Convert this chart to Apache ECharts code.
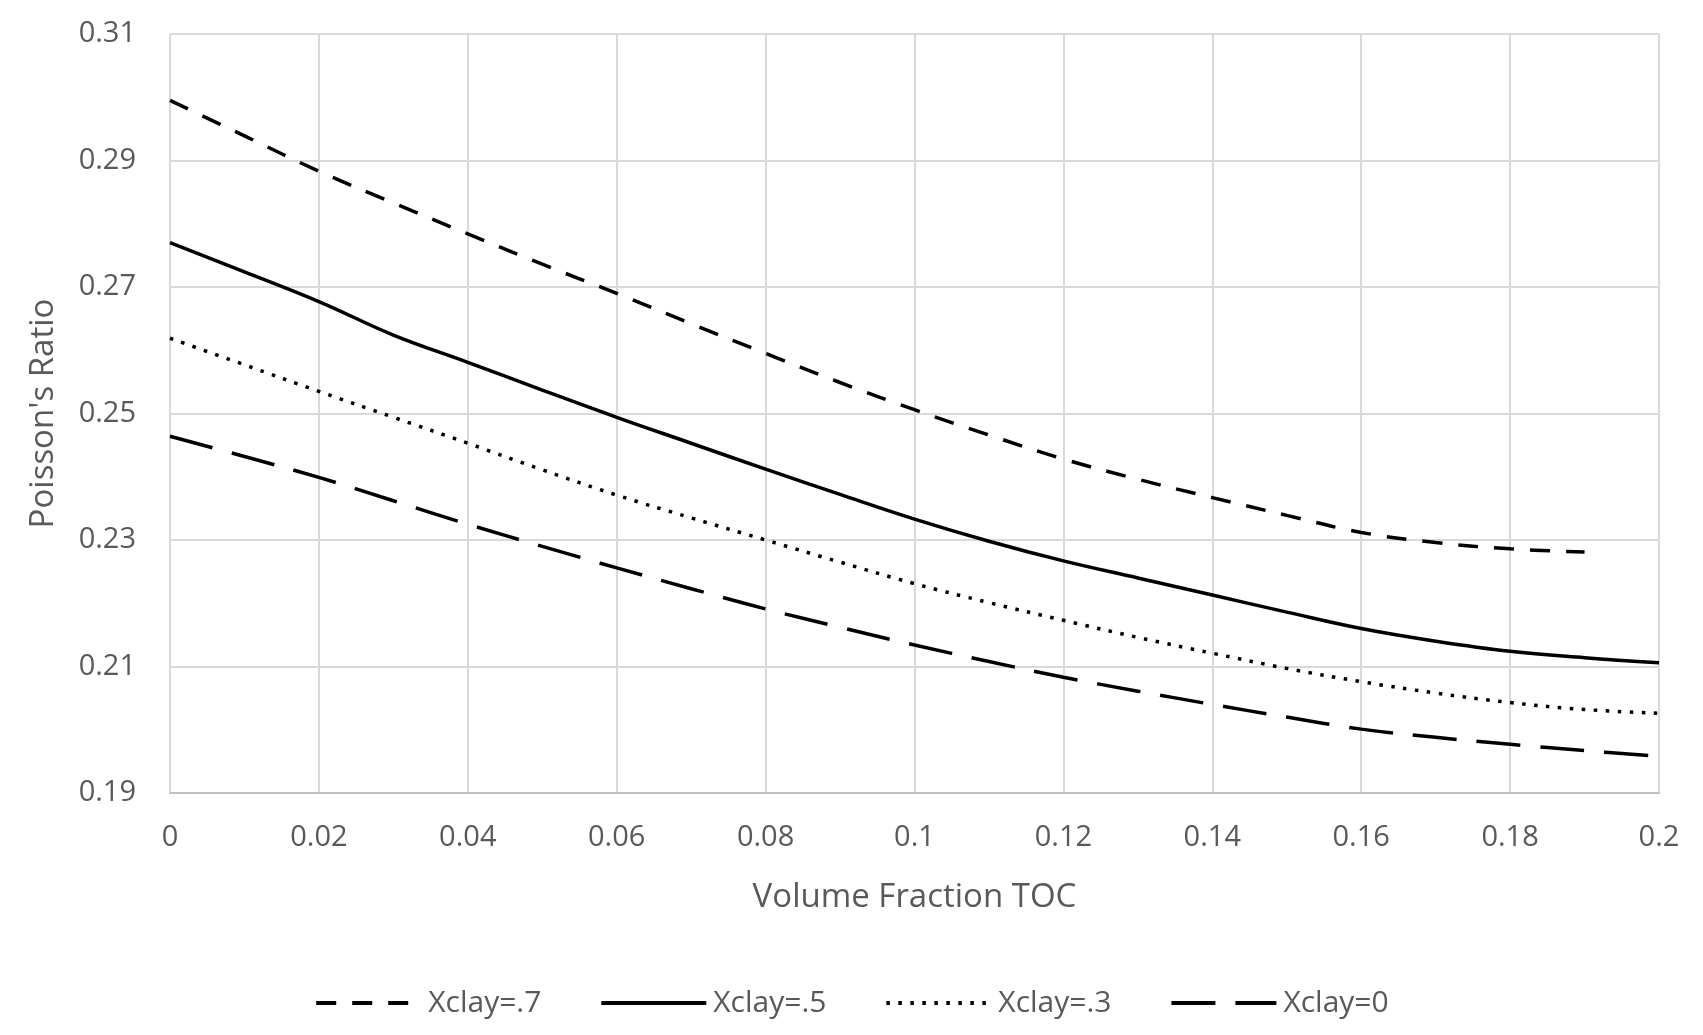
<!DOCTYPE html>
<html>
<head>
<meta charset="utf-8">
<script src="https://cdn.jsdelivr.net/npm/echarts@6/dist/echarts.min.js"></script>
<style>
html,body{margin:0;padding:0;background:#fff;}
#chart{width:1703px;height:1035px;}
</style>
</head>
<body>
<div id="chart"></div>
<script>
const xValues = [0,0.01,0.02,0.03,0.04,0.05,0.06,0.07,0.08,0.09,0.10,0.11,0.12,0.13,0.14,0.15,0.16,0.17,0.18,0.19,0.20];
const seriesNames = ['Xclay=.7','Xclay=.5','Xclay=.3','Xclay=0'];
const clay07 = [0.2995,0.2939,0.2883,0.2833,0.2784,0.2736,0.2690,0.2642,0.2595,0.2549,0.2506,0.2466,0.2428,0.2396,0.2367,0.2339,0.2312,0.2296,0.2286,0.2281];
const clay05 = [0.2770,0.2724,0.2677,0.2624,0.2581,0.2537,0.2494,0.2453,0.2412,0.2372,0.2333,0.2298,0.2267,0.2240,0.2213,0.2186,0.2160,0.2140,0.2124,0.2114,0.2106];
const clay03 = [0.2619,0.2577,0.2535,0.2494,0.2453,0.2411,0.2371,0.2335,0.2300,0.2265,0.2231,0.2201,0.2173,0.2146,0.2121,0.2097,0.2076,0.2058,0.2043,0.2032,0.2026];
const clay00 = [0.2464,0.2432,0.2399,0.2362,0.2325,0.2290,0.2256,0.2223,0.2191,0.2162,0.2134,0.2108,0.2083,0.2061,0.2040,0.2020,0.2001,0.1988,0.1977,0.1967,0.1958];

function pairs(ys){ return ys.map((y,i)=>[xValues[i], y]); }

const FONT = "'Open Sans', 'Liberation Sans', sans-serif";
const TXT = '#595959';
const chart = echarts.init(document.getElementById('chart'), null, {renderer:'canvas'});
const fmt = v => String(parseFloat(Number(v).toFixed(2)));

chart.setOption({
  backgroundColor:'#ffffff',
  animation:false,
  grid:{left:170,right:44,top:34,bottom:242,containLabel:false},
  xAxis:{
    type:'value',min:0,max:0.2,interval:0.02,
    name:'Volume Fraction TOC',nameLocation:'middle',nameGap:88,
    nameTextStyle:{color:TXT,fontSize:33,fontFamily:FONT},
    axisLine:{show:true,lineStyle:{color:'#bfbfbf',width:2}},
    axisTick:{show:false},
    axisLabel:{color:TXT,fontSize:29,fontFamily:FONT,margin:30,formatter:fmt},
    splitLine:{show:true,lineStyle:{color:'#d9d9d9',width:2}}
  },
  yAxis:{
    type:'value',min:0.19,max:0.31,interval:0.02,
    name:"Poisson's Ratio",nameLocation:'middle',nameGap:110,
    nameTextStyle:{color:TXT,fontSize:33,fontFamily:FONT},
    axisLine:{show:false},
    axisTick:{show:false},
    axisLabel:{color:TXT,fontSize:29,fontFamily:FONT,margin:34,formatter:fmt},
    splitLine:{show:true,lineStyle:{color:'#d9d9d9',width:2}}
  },
  legend:{
    bottom:12,left:'center',
    itemWidth:105,itemHeight:14,itemGap:58,
    itemStyle:{color:'rgba(0,0,0,0)',borderWidth:0,opacity:0},
    lineStyle:{width:3.8,color:'#000'},
    textStyle:{color:TXT,fontSize:30,fontFamily:FONT,padding:[0,0,0,2]},
    data:seriesNames
  },
  series:[
    {name:seriesNames[0],type:'line',data:pairs(clay07),smooth:0.4,symbol:'none',
     lineStyle:{color:'#000',width:3.5,type:[20,16]},itemStyle:{color:'#000'}},
    {name:seriesNames[1],type:'line',data:pairs(clay05),smooth:0.4,symbol:'none',
     lineStyle:{color:'#000',width:3.5,type:'solid'},itemStyle:{color:'#000'}},
    {name:seriesNames[2],type:'line',data:pairs(clay03),smooth:0.4,symbol:'none',
     lineStyle:{color:'#000',width:3.5,type:[3.5,8.5]},itemStyle:{color:'#000'}},
    {name:seriesNames[3],type:'line',data:pairs(clay00),smooth:0.4,symbol:'none',
     lineStyle:{color:'#000',width:3.5,type:[44,20]},itemStyle:{color:'#000'}}
  ]
});
</script>
</body>
</html>
